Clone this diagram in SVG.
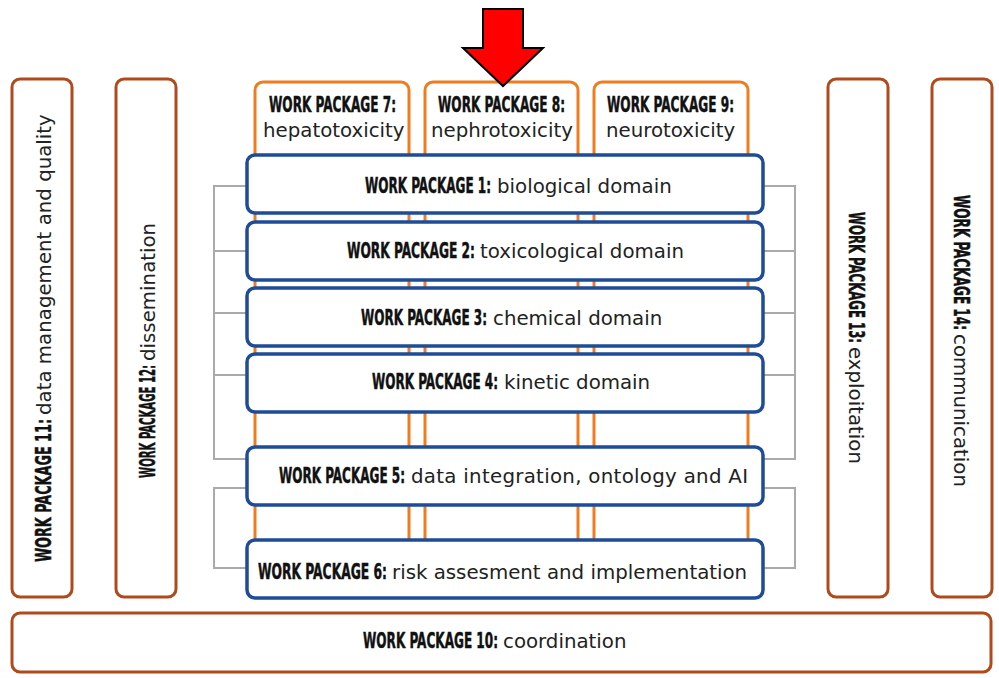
<svg xmlns="http://www.w3.org/2000/svg" width="999" height="678" viewBox="0 0 999 678">
<style>
.outer{fill:#fff;stroke:#b04a1c;stroke-width:3}
.wp{fill:#fff;stroke:#f07c1e;stroke-width:3}
.core{fill:#fff;stroke:#1f4c98;stroke-width:3.5}
.conn{fill:none;stroke:#aaaaaa;stroke-width:2}
.t{font-family:"DejaVu Sans",Verdana,sans-serif;font-size:19.8px;fill:#222}
.b{font-family:"DejaVu Sans Condensed","DejaVu Sans",sans-serif;font-weight:bold;font-size:13.3px;fill:#111;stroke:#111;stroke-width:0.3}
</style>
<rect width="999" height="678" fill="#fff"/>
<g id="connectors">
<path class="conn" d="M247,186 H214 V459 H247 M214,251 H247 M214,313 H247 M214,375 H247"/>
<path class="conn" d="M247,488 H214 V568 H247"/>
<path class="conn" d="M763,186 H795 V459 H763 M795,251 H763 M795,313 H763 M795,375 H763"/>
<path class="conn" d="M763,488 H795 V568 H763"/>
</g>
<g id="wp7"><rect class="wp" x="255" y="82" width="154" height="508" rx="8"/>
<text class="b" transform="translate(269,112) scale(1,1.65)" textLength="127" lengthAdjust="spacingAndGlyphs">WORK PACKAGE 7:</text>
<text class="t" x="263" y="137">hepatotoxicity</text></g>
<g id="wp8"><rect class="wp" x="425" y="82" width="153" height="508" rx="8"/>
<text class="b" transform="translate(438,112) scale(1,1.65)" textLength="127" lengthAdjust="spacingAndGlyphs">WORK PACKAGE 8:</text>
<text class="t" x="431" y="137">nephrotoxicity</text></g>
<g id="wp9"><rect class="wp" x="594" y="82" width="154" height="508" rx="8"/>
<text class="b" transform="translate(607,112) scale(1,1.65)" textLength="127" lengthAdjust="spacingAndGlyphs">WORK PACKAGE 9:</text>
<text class="t" x="606" y="137">neurotoxicity</text></g>
<g id="arrow"><polygon points="483,9 523,9 523,48 543,48 503,86 463,48 483,48" fill="#ff0000" stroke="#000" stroke-width="2"/></g>
<g id="wp1"><rect class="core" x="247" y="155" width="516" height="58" rx="8"/>
<text class="b" transform="translate(365,193) scale(1,1.65)" textLength="126" lengthAdjust="spacingAndGlyphs">WORK PACKAGE 1:</text>
<text class="t" x="497" y="193">biological domain</text></g>
<g id="wp2"><rect class="core" x="247" y="222" width="516" height="58" rx="8"/>
<text class="b" transform="translate(347,258) scale(1,1.65)" textLength="128" lengthAdjust="spacingAndGlyphs">WORK PACKAGE 2:</text>
<text class="t" x="480" y="258">toxicological domain</text></g>
<g id="wp3"><rect class="core" x="247" y="288" width="516" height="58" rx="8"/>
<text class="b" transform="translate(361,325) scale(1,1.65)" textLength="126" lengthAdjust="spacingAndGlyphs">WORK PACKAGE 3:</text>
<text class="t" x="493" y="325">chemical domain</text></g>
<g id="wp4"><rect class="core" x="247" y="354" width="516" height="58" rx="8"/>
<text class="b" transform="translate(372,389) scale(1,1.65)" textLength="126" lengthAdjust="spacingAndGlyphs">WORK PACKAGE 4:</text>
<text class="t" x="504" y="389">kinetic domain</text></g>
<g id="wp5"><rect class="core" x="247" y="447" width="516" height="58" rx="8"/>
<text class="b" transform="translate(279,483) scale(1,1.65)" textLength="126" lengthAdjust="spacingAndGlyphs">WORK PACKAGE 5:</text>
<text class="t" x="411" y="483" textLength="337" lengthAdjust="spacing">data integration, ontology and AI</text></g>
<g id="wp6"><rect class="core" x="247" y="540" width="516" height="58" rx="8"/>
<text class="b" transform="translate(258,579) scale(1,1.65)" textLength="129" lengthAdjust="spacingAndGlyphs">WORK PACKAGE 6:</text>
<text class="t" x="392" y="579">risk assesment and implementation</text></g>
<g id="wp10"><rect class="outer" x="12" y="613" width="979" height="59" rx="8"/>
<text class="b" transform="translate(363,648) scale(1,1.65)" textLength="135" lengthAdjust="spacingAndGlyphs">WORK PACKAGE 10:</text>
<text class="t" x="503" y="648">coordination</text></g>
<g id="wp11"><rect class="outer" x="12" y="79" width="60" height="518" rx="8"/>
<text class="b" transform="translate(51,562) rotate(-90) scale(1,1.65)" textLength="143" lengthAdjust="spacingAndGlyphs">WORK PACKAGE 11:</text>
<text class="t" transform="translate(51,415) rotate(-90)">data management and quality</text></g>
<g id="wp12"><rect class="outer" x="116" y="79" width="60" height="518" rx="8"/>
<text class="b" transform="translate(155,478) rotate(-90) scale(1,1.65)" textLength="113" lengthAdjust="spacingAndGlyphs">WORK PACKAGE 12:</text>
<text class="t" transform="translate(155,361) rotate(-90)">dissemination</text></g>
<g id="wp13"><rect class="outer" x="828" y="79" width="60" height="518" rx="8"/>
<text class="b" transform="translate(849,212) rotate(90) scale(1,1.65)" textLength="131" lengthAdjust="spacingAndGlyphs">WORK PACKAGE 13:</text>
<text class="t" transform="translate(849,347) rotate(90)">exploitation</text></g>
<g id="wp14"><rect class="outer" x="932" y="79" width="60" height="518" rx="8"/>
<text class="b" transform="translate(954,195) rotate(90) scale(1,1.65)" textLength="135" lengthAdjust="spacingAndGlyphs">WORK PACKAGE 14:</text>
<text class="t" transform="translate(954,334) rotate(90)">communication</text></g>
</svg>
